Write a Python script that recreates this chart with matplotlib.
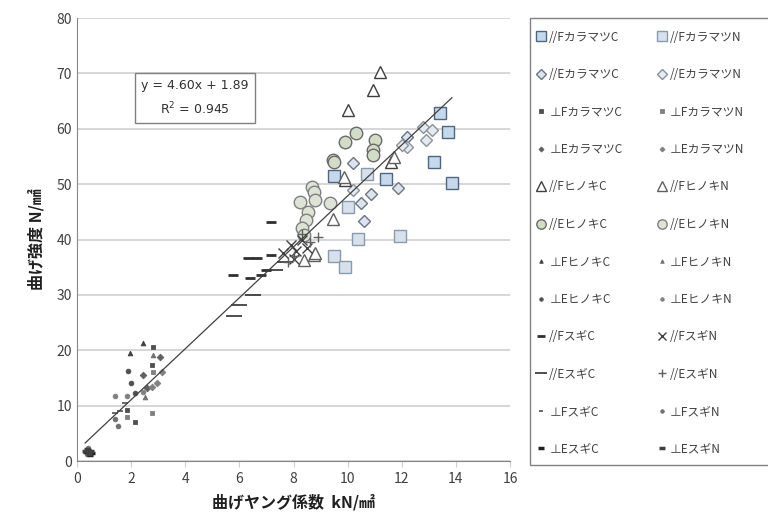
import numpy as np
import matplotlib
matplotlib.use("Agg")
from matplotlib import pyplot as plt
from matplotlib.patches import Rectangle

plt.rcParams['font.family'] = ['Noto Sans CJK JP', 'DejaVu Sans']

# ---- data ----
# //F カラマツ
fk_c_x = [13.4, 13.7, 13.2, 13.85, 11.4, 9.5]
fk_c_y = [62.8, 59.4, 54.0, 50.3, 51.0, 51.5]
fk_n_x = [10.7, 10.0, 10.4, 11.95, 9.5, 9.9]
fk_n_y = [51.8, 45.8, 40.1, 40.6, 37.0, 35.0]
# //E カラマツ
ek_c_x = [10.2, 11.85, 10.5, 10.85, 10.6, 12.2]
ek_c_y = [53.8, 49.3, 46.6, 48.2, 43.3, 58.5]
ek_n_x = [12.2, 12.8, 12.9, 13.1, 10.2, 12.0]
ek_n_y = [56.7, 60.3, 57.9, 59.7, 48.9, 57.0]
# ⊥F カラマツ
pfk_c_x = [2.8, 2.78, 1.85, 2.15]
pfk_c_y = [20.6, 17.3, 9.2, 7.0]
pfk_n_x = [2.8, 2.78, 1.85]
pfk_n_y = [16.1, 8.7, 7.9]
# ⊥E カラマツ
pek_c_x = [3.07, 2.59, 2.44]
pek_c_y = [18.8, 13.2, 15.5]
pek_n_x = [3.15, 2.96, 2.78]
pek_n_y = [16.1, 14.1, 13.4]
# //F ヒノキ
fh_c_x = [11.2, 10.95, 10.0, 11.6, 9.9]
fh_c_y = [70.2, 67.0, 63.4, 54.0, 50.7]
fh_n_x = [11.7, 9.45, 8.75, 8.4, 8.8, 9.85]
fh_n_y = [54.9, 43.7, 37.2, 36.3, 37.6, 51.3]
# //E ヒノキ
eh_c_x = [10.3, 9.9, 11.0, 10.95, 10.95, 9.45, 9.5]
eh_c_y = [59.2, 57.6, 57.9, 56.1, 55.2, 54.3, 54.0]
eh_n_x = [8.7, 8.75, 8.25, 8.8, 8.55, 9.35, 8.45, 8.3, 8.4]
eh_n_y = [49.5, 48.6, 46.8, 47.1, 45.0, 46.6, 43.5, 42.1, 40.8]
# ⊥F ヒノキ
pfh_c_x = [2.44, 1.96]
pfh_c_y = [21.3, 19.5]
pfh_n_x = [2.8, 2.52]
pfh_n_y = [19.1, 11.6]
# ⊥E ヒノキ
peh_c_x = [1.89, 2.0, 2.15]
peh_c_y = [16.2, 14.1, 12.3]
peh_n_x = [1.41, 1.85, 2.44]
peh_n_y = [11.7, 11.7, 12.5]
# //F スギ
fs_c_x = [7.15, 6.3, 6.65, 7.15, 5.75, 6.4, 6.8, 7.0]
fs_c_y = [43.2, 36.6, 36.6, 37.2, 33.6, 33.0, 33.6, 34.5]
fs_n_x = [7.6, 7.9, 8.1, 8.3, 8.0, 8.5]
fs_n_y = [37.5, 39.0, 38.0, 40.0, 36.5, 38.5]
# //E スギ
es_c_x = [5.8, 6.0, 6.5, 7.3, 7.7]
es_c_y = [26.2, 28.2, 30.0, 34.5, 36.0]
es_n_x = [8.0, 8.6, 8.3, 7.8, 8.9]
es_n_y = [37.0, 39.5, 41.0, 36.0, 40.5]
# ⊥F スギ
pfs_c_x = [1.78, 1.59, 1.41, 0.45, 0.35]
pfs_c_y = [10.5, 9.0, 8.7, 1.8, 1.5]
pfs_n_x = [1.41, 1.52, 0.40, 0.50, 0.38]
pfs_n_y = [7.6, 6.3, 2.3, 1.6, 1.2]
# ⊥E スギ
pes_c_x = [0.42, 0.55, 0.33, 0.47]
pes_c_y = [2.0, 1.4, 1.7, 1.1]
pes_n_x = [0.36, 0.52, 0.44, 0.30]
pes_n_y = [2.2, 1.9, 1.3, 1.9]

labels = ['//FカラマツC', '//FカラマツN', '//EカラマツC', '//EカラマツN',
          '⊥FカラマツC', '⊥FカラマツN', '⊥EカラマツC', '⊥EカラマツN',
          '//FヒノキC', '//FヒノキN', '//EヒノキC', '//EヒノキN',
          '⊥FヒノキC', '⊥FヒノキN', '⊥EヒノキC', '⊥EヒノキN',
          '//FスギC', '//FスギN', '//EスギC', '//EスギN',
          '⊥FスギC', '⊥FスギN', '⊥EスギC', '⊥EスギN']
series = [(fk_c_x, fk_c_y), (fk_n_x, fk_n_y), (ek_c_x, ek_c_y), (ek_n_x, ek_n_y),
          (pfk_c_x, pfk_c_y), (pfk_n_x, pfk_n_y), (pek_c_x, pek_c_y), (pek_n_x, pek_n_y),
          (fh_c_x, fh_c_y), (fh_n_x, fh_n_y), (eh_c_x, eh_c_y), (eh_n_x, eh_n_y),
          (pfh_c_x, pfh_c_y), (pfh_n_x, pfh_n_y), (peh_c_x, peh_c_y), (peh_n_x, peh_n_y),
          (fs_c_x, fs_c_y), (fs_n_x, fs_n_y), (es_c_x, es_c_y), (es_n_x, es_n_y),
          (pfs_c_x, pfs_c_y), (pfs_n_x, pfs_n_y), (pes_c_x, pes_c_y), (pes_n_x, pes_n_y)]

slope, intercept, r2 = 4.60, 1.89, 0.945

# ---- styles ----
big_sq_c = dict(marker='s', ms=9, mfc='#c6d9ec', mec='#50667e', mew=1.0)
big_sq_n = dict(marker='s', ms=9, mfc='#d6e1ec', mec='#8a9aac', mew=1.0)
dia_c = dict(marker='D', ms=6.5, mfc='#dbe4ee', mec='#6c7680', mew=1.0)
dia_n = dict(marker='D', ms=6.5, mfc='#e4eaf0', mec='#8a929a', mew=1.0)
tri_c = dict(marker='^', ms=9, mfc='white', mec='#404040', mew=1.0)
tri_n = dict(marker='^', ms=9, mfc='white', mec='#606060', mew=1.0)
cir_c = dict(marker='o', ms=9, mfc='#d3dcc6', mec='#6a6a6a', mew=1.0)
cir_n = dict(marker='o', ms=9, mfc='#dde3d5', mec='#808080', mew=1.0)
small = lambda m, c: dict(marker=m, ms=3.4, mfc=c, mec=c, mew=0.6)
styles = [big_sq_c, big_sq_n, dia_c, dia_n,
          small('s', '#505050'), small('s', '#808080'), small('D', '#606060'), small('D', '#808080'),
          tri_c, tri_n, cir_c, cir_n,
          small('^', '#404040'), small('^', '#707070'), small('o', '#505050'), small('o', '#808080'),
          dict(marker='_', ms=7, mec='#303030', mew=2.0), dict(marker='x', ms=7, mec='#404040', mew=1.0),
          dict(marker='_', ms=11, mec='#303030', mew=1.2), dict(marker='+', ms=7, mec='#606060', mew=1.0),
          dict(marker='_', ms=4, mec='#505050', mew=1.2), small('o', '#707070'),
          dict(marker='_', ms=5, mec='#202020', mew=2.5), dict(marker='_', ms=5, mec='#404040', mew=2.5)]

fig = plt.figure(figsize=(7.68, 5.30), dpi=100)
ax = fig.add_axes([0.1003, 0.130, 0.5638, 0.836])

handles = []
for (x, y), lab, st in zip(series, labels, styles):
    h, = ax.plot(x, y, linestyle='none', label=lab, zorder=3, **st)
    handles.append(h)

# trend line over the data range
all_x = np.concatenate([np.array(s[0]) for s in series])
xs = np.array([all_x.min(), all_x.max()])
ax.plot(xs, slope * xs + intercept, color='#404040', lw=0.9, zorder=4)

ax.text(0.2725, 0.819, 'y = %.2fx + %.2f\nR$^2$ = %.3f' % (slope, intercept, r2),
        transform=ax.transAxes, ha='center', va='center', fontsize=9, color='#303030',
        family='DejaVu Sans', linespacing=1.6,
        bbox=dict(boxstyle='square,pad=0.5', fc='white', ec='#808080', lw=1.0))

ax.set_xlim(0, 16)
ax.set_ylim(0, 80)
ax.set_xticks(np.arange(0, 17, 2))
ax.set_yticks(np.arange(0, 81, 10))
ax.grid(axis='y', color='#d0d0d0', lw=1.2)
ax.set_axisbelow(True)
for s in ['top', 'right']:
    ax.spines[s].set_visible(False)
for s in ['left', 'bottom']:
    ax.spines[s].set_color('#868686')
ax.tick_params(axis='both', colors='#d0d0d0', labelcolor='#404040', labelsize=10, length=4)
ax.tick_params(axis='y', length=0)
ax.set_xlabel('曲げヤング係数  kN/㎟', fontsize=11.5, fontweight='bold', color='#202020', labelpad=6)
ax.set_ylabel('曲げ強度 N/㎟', fontsize=11.5, fontweight='bold', color='#202020', labelpad=9)

# legend frame (runs off the right edge like the reference)
fig.patches.append(Rectangle((530 / 768, 1 - 465 / 530), 0.4, (465 - 18) / 530,
                             transform=fig.transFigure, fc='white', ec='#808080', lw=1.0, zorder=0))

# row-major order: C entries in column 1, N entries in column 2
order = list(range(0, 24, 2)) + list(range(1, 24, 2))
leg = fig.legend([handles[i] for i in order], [labels[i] for i in order], ncol=2,
                 loc='upper left', bbox_to_anchor=(0.693, 0.949), bbox_transform=fig.transFigure,
                 borderaxespad=0, fontsize=8.5, labelspacing=2.07,
                 handlelength=0.9, handletextpad=0.25, columnspacing=2.85,
                 frameon=False, markerscale=0.75, borderpad=0.3)
for t in leg.get_texts():
    t.set_color('#404040')

fig.savefig('out.png', dpi=100)
